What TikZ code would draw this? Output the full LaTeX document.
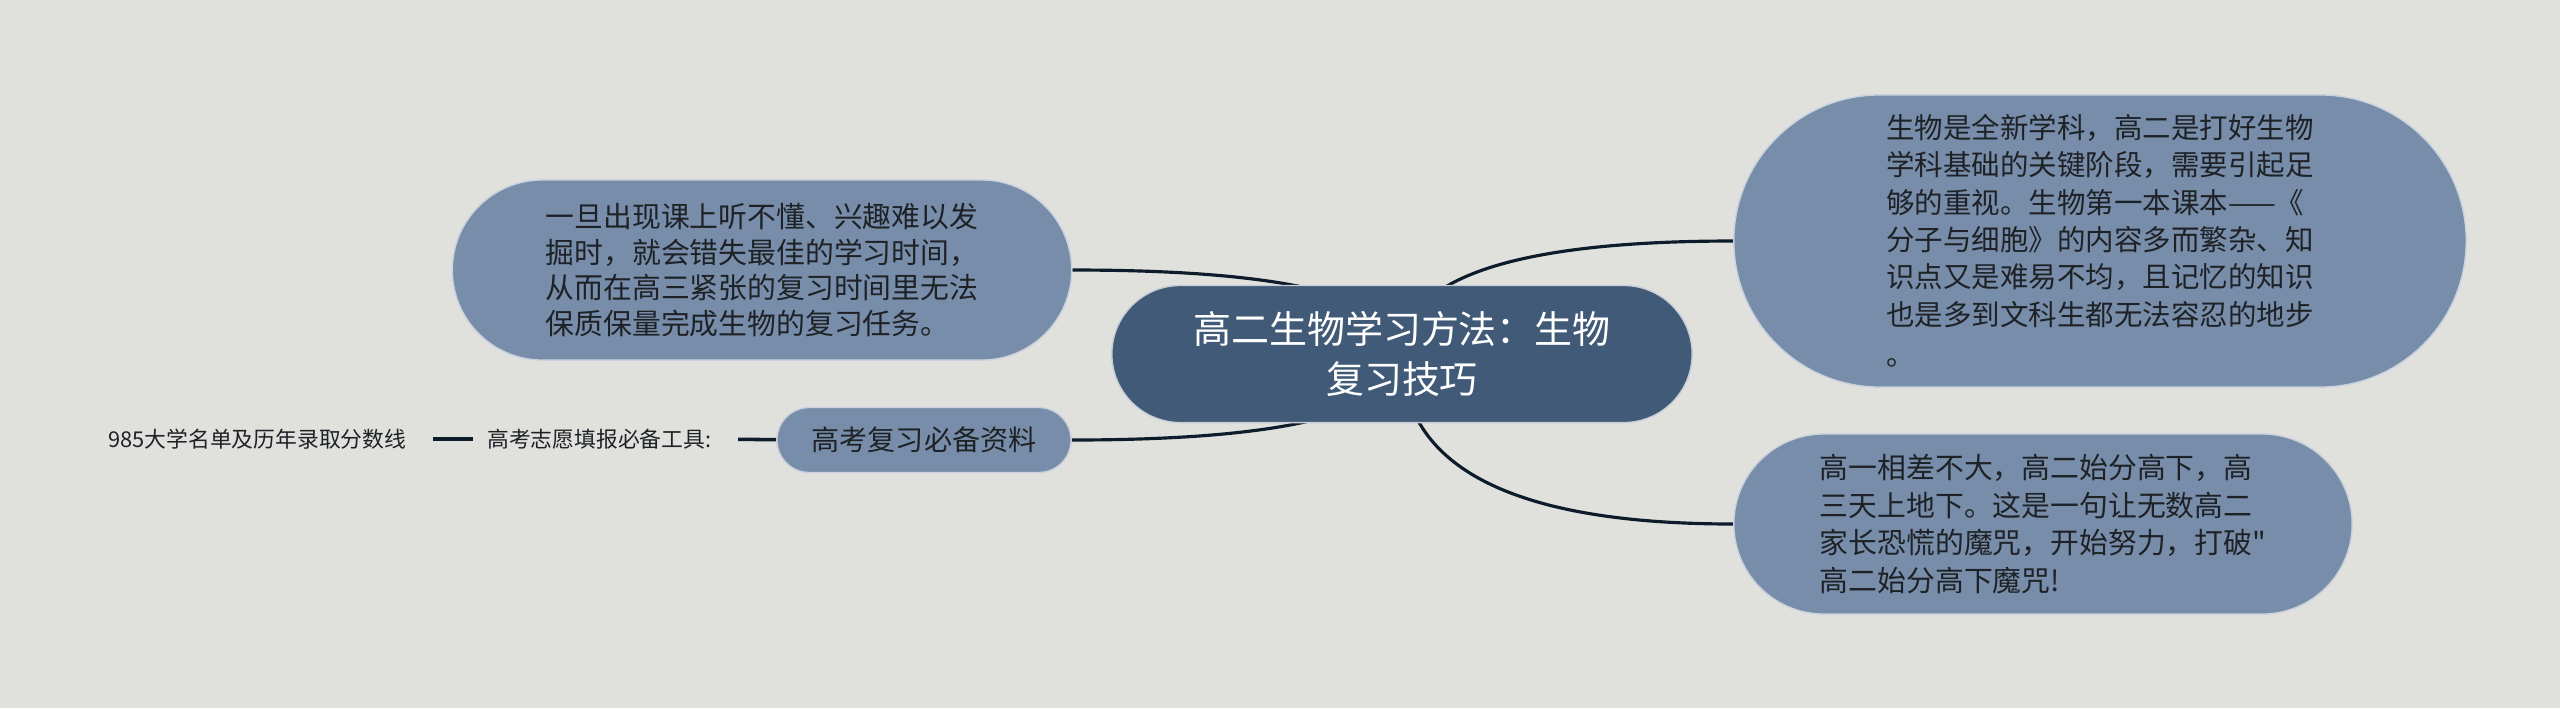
\documentclass[tikz,border=0pt]{standalone}
\usepackage{fontspec}
\newfontfamily\cjk{Noto Sans CJK SC}
\usetikzlibrary{shapes.misc,calc,backgrounds}

\definecolor{paper}{HTML}{E0E1DD}
\definecolor{rootfill}{HTML}{415A77}
\definecolor{leaffill}{HTML}{778DA9}
\definecolor{ink}{HTML}{1E2226}
\definecolor{wire}{HTML}{0D1B2A}

\tikzset{
  root/.style={rounded rectangle, fill=rootfill, draw=white!70!rootfill, line width=0.4pt,
    text=white, align=center, inner sep=0pt,
    font=\cjk\fontsize{10.8}{14.2}\selectfont},
  leaf/.style={rounded rectangle, fill=leaffill, draw=white!60!leaffill, line width=0.4pt,
    text=ink, align=left, inner sep=0pt},
  tag/.style={text=ink, inner xsep=3.7pt, inner ysep=2pt,
    font=\cjk\fontsize{6.2}{7.5}\selectfont},
  branch/.style={draw=wire, line width=0.9pt,
    to path={.. controls ($(\tikztostart)!2/3!(\tikztostart|-\tikztotarget)$)
      and ($(\tikztotarget)!2/3!(\tikztostart|-\tikztotarget)$) .. (\tikztotarget)}},
  stub/.style={draw=wire, line width=1pt, shorten <=3.7pt}
}

\begin{document}
\begin{tikzpicture}[x=0.01cm, y=-0.01cm]
  % central topic
  \node[root, minimum width=5.80cm, minimum height=1.37cm] (title) at (1402,354)
    {高二生物学习方法：生物\\复习技巧};
  % left side
  \node[leaf, minimum width=6.19cm, minimum height=1.80cm,
    font=\cjk\fontsize{8.2}{10.1}\selectfont] (study) at (762,270)
    {一旦出现课上听不懂、兴趣难以发\\掘时，就会错失最佳的学习时间，\\从而在高三紧张的复习时间里无法\\保质保量完成生物的复习任务。};
  \node[leaf, minimum width=2.94cm, minimum height=0.65cm,
    font=\cjk\fontsize{8}{10}\selectfont] (res) at (924,440) {高考复习必备资料};
  \node[tag, anchor=east] (tool) at (725,439) {高考志愿填报必备工具:};
  \node[tag, anchor=east] (list) at (420,439) {985大学名单及历年录取分数线};
  % right side
  \node[leaf, minimum width=7.32cm, minimum height=2.92cm,
    font=\cjk\fontsize{8.1}{10.6}\selectfont] (base) at (2100,241)
    {生物是全新学科，高二是打好生物\\学科基础的关键阶段，需要引起足\\够的重视。生物第一本课本——《\\分子与细胞》的内容多而繁杂、知\\识点又是难易不均，且记忆的知识\\也是多到文科生都无法容忍的地步\\[1pt]。};
  \node[leaf, minimum width=6.18cm, minimum height=1.80cm,
    font=\cjk\fontsize{8.2}{10.7}\selectfont] (gap) at (2043,524)
    {高一相差不大，高二始分高下，高\\三天上地下。这是一句让无数高二\\家长恐慌的魔咒，开始努力，打破"\\高二始分高下魔咒!};
  % connectors behind the nodes
  \begin{pgfonlayer}{background}
    \fill[paper] (0,0) rectangle (2560,708);
    \draw[branch] (title.center) to (study.east);
    \draw[branch] (title.center) to (res.east);
    \draw[branch] (title.center) to (base.west);
    \draw[branch] (title.center) to (gap.west);
    \draw[stub] (tool) -- (res);
    \draw[stub] (list) -- (tool);
  \end{pgfonlayer}
\end{tikzpicture}
\end{document}
